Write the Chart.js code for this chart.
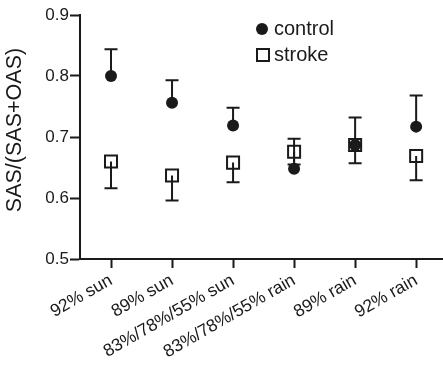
<!DOCTYPE html>
<html>
<head>
<meta charset="utf-8">
<script src="https://cdn.jsdelivr.net/npm/chart.js@4.4.1/dist/chart.umd.min.js"></script>
<style>
html,body{margin:0;padding:0;background:#fff;overflow:hidden;}
canvas{display:block;}
</style>
</head>
<body>
<canvas id="c" width="443" height="370"></canvas>
<script>
const categories = ["92% sun", "89% sun", "83%/78%/55% sun", "83%/78%/55% rain", "89% rain", "92% rain"];
const controlValues = [0.800, 0.756, 0.719, 0.648, 0.687, 0.717];
const controlHigh = [0.844, 0.793, 0.748, 0.697, 0.732, 0.768];
const strokeValues = [0.660, 0.637, 0.658, 0.676, 0.687, 0.669];
const strokeLow = [0.616, 0.596, 0.626, 0.655, 0.657, 0.629];
const yTicks = [0.5, 0.6, 0.7, 0.8, 0.9];
const yTitle = "SAS/(SAS+OAS)";
const seriesNames = ["control", "stroke"];

const FONT = "'Liberation Sans', Arial, sans-serif";

const errorBars = {
  id: 'errorBars',
  beforeDatasetsDraw(chart) {
    const ctx = chart.ctx;
    const xs = chart.scales.x, ys = chart.scales.y;
    ctx.save();
    ctx.strokeStyle = '#1a1a1a';
    ctx.lineWidth = 2;
    const cap = 6.5;
    chart.data.datasets.forEach(ds => {
      ds.errEnd.forEach((e, i) => {
        const x = xs.getPixelForValue(i);
        const y0 = ys.getPixelForValue(ds.data[i].y);
        const y1 = ys.getPixelForValue(e);
        ctx.beginPath();
        ctx.moveTo(x, y0); ctx.lineTo(x, y1);
        ctx.moveTo(x - cap, y1); ctx.lineTo(x + cap, y1);
        ctx.stroke();
      });
    });
    ctx.restore();
  }
};

const customLegend = {
  id: 'customLegend',
  afterDraw(chart) {
    const ctx = chart.ctx;
    ctx.save();
    ctx.font = "20px " + FONT;
    ctx.fillStyle = '#1a1a1a';
    ctx.textBaseline = 'middle';
    ctx.beginPath();
    ctx.arc(262, 29, 6, 0, Math.PI * 2);
    ctx.fill();
    ctx.fillText(chart.data.datasets[0].label, 274, 29);
    ctx.strokeStyle = '#1a1a1a';
    ctx.lineWidth = 2;
    ctx.strokeRect(257, 49, 12, 12);
    ctx.fillText(chart.data.datasets[1].label, 274, 55);
    // y axis title
    ctx.save();
    ctx.font = "21.5px " + FONT;
    ctx.textAlign = 'center';
    ctx.textBaseline = 'middle';
    ctx.translate(15, 130);
    ctx.rotate(-Math.PI / 2);
    ctx.fillText(yTitle, 0, 0);
    ctx.restore();
    ctx.restore();
  }
};

new Chart(document.getElementById('c'), {
  type: 'scatter',
  data: {
    datasets: [
      {
        label: seriesNames[0],
        data: controlValues.map((v, i) => ({x: i, y: v})),
        errEnd: controlHigh,
        pointStyle: 'circle',
        pointRadius: 6,
        pointBackgroundColor: '#1a1a1a',
        pointBorderColor: '#1a1a1a',
        pointBorderWidth: 0,
        order: 2
      },
      {
        label: seriesNames[1],
        data: strokeValues.map((v, i) => ({x: i, y: v})),
        errEnd: strokeLow,
        pointStyle: 'rect',
        pointRadius: 8.5,
        pointBackgroundColor: 'rgba(0,0,0,0)',
        pointBorderColor: '#1a1a1a',
        pointBorderWidth: 2,
        order: 1
      }
    ]
  },
  options: {
    responsive: false,
    animation: false,
    events: [],
    layout: { autoPadding: false, padding: { left: 0, right: 0, top: 15, bottom: 0 } },
    plugins: { legend: { display: false }, tooltip: { enabled: false } },
    scales: {
      x: {
        type: 'linear',
        min: -0.508,
        max: 5.44,
        afterBuildTicks(scale) { scale.ticks = categories.map((c, i) => ({ value: i })); },
        afterFit(scale) { scale.height = 111; scale.paddingRight = 0; scale.paddingLeft = 0; },
        grid: { drawOnChartArea: false, drawTicks: true, tickLength: 9, tickWidth: 2, tickColor: '#1a1a1a' },
        border: { display: true, color: '#1a1a1a', width: 2 },
        ticks: {
          autoSkip: false,
          minRotation: 30,
          maxRotation: 30,
          padding: 2,
          color: '#1a1a1a',
          font: { family: FONT, size: 17.5 },
          callback: (v) => categories[v]
        }
      },
      y: {
        min: 0.5,
        max: 0.9,
        afterBuildTicks(scale) { scale.ticks = yTicks.map(v => ({ value: v })); },
        afterFit(scale) { scale.width = 80; },
        grid: { drawOnChartArea: false, drawTicks: true, tickLength: 10, tickWidth: 2, tickColor: '#1a1a1a' },
        border: { display: true, color: '#1a1a1a', width: 2 },
        ticks: {
          padding: 1,
          color: '#1a1a1a',
          font: { family: FONT, size: 17 },
          callback: (v) => v.toFixed(1)
        },
        title: { display: false }
      }
    }
  },
  plugins: [errorBars, customLegend]
});
</script>
</body>
</html>
